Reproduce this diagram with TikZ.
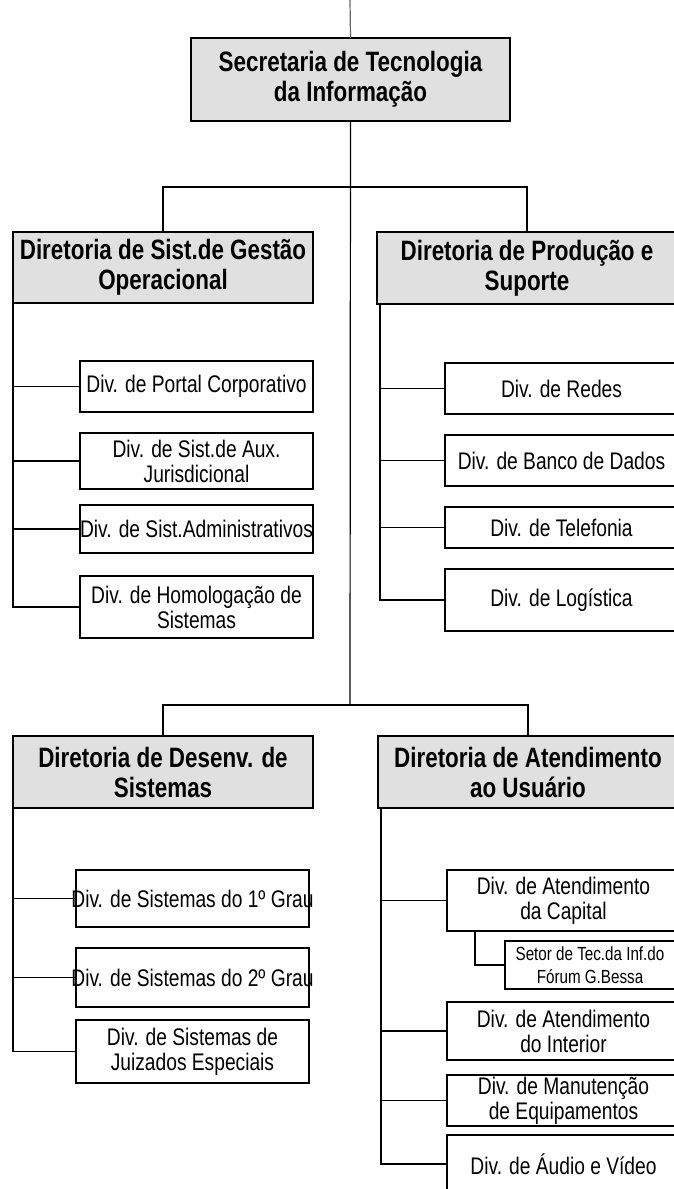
\documentclass[tikz,border=0pt]{standalone}
\usepackage{fontspec}
\setmainfont[FakeStretch=0.8]{Liberation Sans}

\begin{document}
\begin{tikzpicture}[x=1pt, y=-1pt,
                    headbox/.style={draw, line width=1.3pt, fill=black!12, anchor=north west,
                                    inner sep=0pt, outer sep=0pt, align=center,
                                    font=\bfseries\fontsize{28}{30}\selectfont},
                    divbox/.style={draw, line width=1.3pt, fill=white, anchor=north west,
                                   inner sep=0pt, outer sep=0pt, align=center,
                                   minimum width=233pt, font=\fontsize{24}{25}\selectfont},
                    link/.style={line width=1.2pt}]
\fill[white] (0,0) rectangle (673,1189);
\useasboundingbox (0,0) rectangle (673,1189);
\node[headbox, minimum width=319pt, minimum height=83pt] (sec) at (191,38) {Secretaria de Tecnologia\\da Informação};
\node[headbox, minimum width=300pt, minimum height=71pt] (dgo) at (13,232) {\makebox[294pt]{Diretoria de Sist.de Gestão}\\Operacional};
\node[headbox, minimum width=300pt, minimum height=72pt] (dps) at (377,232) {Diretoria de Produção e\\Suporte};
\node[headbox, minimum width=300pt, minimum height=72pt] (dds) at (13,736) {Diretoria de Desenv. de\\Sistemas};
\node[headbox, minimum width=300pt, minimum height=72pt] (dau) at (378,736) {Diretoria de Atendimento\\ao Usuário};
\node[divbox, minimum height=51pt] (portal) at (80,361) {Div. de Portal Corporativo};
\node[divbox, minimum height=56pt] (aux) at (80,433) {Div. de Sist.de Aux.\\Jurisdicional};
\node[divbox, minimum height=48pt] (adm) at (80,505) {\makebox[226pt]{Div. de Sist.Administrativos}};
\node[divbox, minimum height=62pt] (homol) at (80,576) {Div. de Homologação de\\Sistemas};
\node[divbox, minimum height=51pt] (redes) at (445,363) {Div. de Redes};
\node[divbox, minimum height=51pt] (banco) at (445,435) {Div. de Banco de Dados};
\node[divbox, minimum height=41pt] (tel) at (445,507) {Div. de Telefonia};
\node[divbox, minimum height=62pt] (log) at (445,569) {Div. de Logística};
\node[divbox, minimum height=57pt] (grau1) at (76,870) {\makebox[226pt]{Div. de Sistemas do 1º Grau}};
\node[divbox, minimum height=59pt] (grau2) at (76,948) {\makebox[226pt]{Div. de Sistemas do 2º Grau}};
\node[divbox, minimum height=63pt] (juiz) at (76,1020) {Div. de Sistemas de\\Juizados Especiais};
\node[divbox, minimum height=61pt] (capital) at (447,870) {Div. de Atendimento\\da Capital};
\node[divbox, minimum width=170pt, minimum height=48pt, font=\fontsize{19}{23}\selectfont] (setor) at (505,941) {Setor de Tec.da Inf.do\\Fórum G.Bessa};
\node[divbox, minimum height=58pt] (interior) at (447,1002) {Div. de Atendimento\\do Interior};
\node[divbox, minimum height=51pt] (manut) at (447,1075) {Div. de Manutenção\\de Equipamentos};
\node[divbox, minimum height=58pt] (audio) at (447,1135) {Div. de Áudio e Vídeo};
\coordinate (top) at (350,0);
\coordinate (j1) at (350,187);
\coordinate (j2) at (350,705);
\draw[link, black!60] (top) -- (sec.north);
\draw[link] (sec.south) -- (j2);
\draw[link] (dgo.north) |- (j1) -| (dps.north);
\draw[link] (dds.north) |- (j2) -| (dau.north);
\foreach \n in {portal,aux,adm,homol}
  \draw[link] (dgo.south west) |- (\n.west);
\foreach \n in {redes,banco,tel,log}
  \draw[link] ([xshift=3pt]dps.south west) |- (\n.west);
\foreach \n in {grau1,grau2,juiz}
  \draw[link] (dds.south west) |- (\n.west);
\foreach \n in {capital,interior,manut,audio}
  \draw[link] ([xshift=3pt]dau.south west) |- (\n.west);
\draw[link] ([xshift=28pt]capital.south west) |- (setor.west);
\end{tikzpicture}
\end{document}
